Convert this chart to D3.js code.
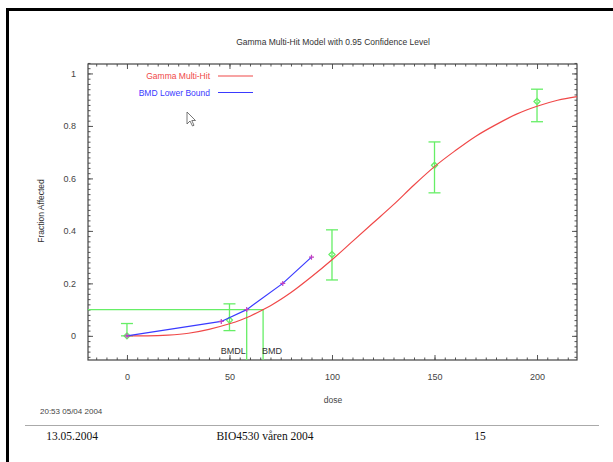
<!DOCTYPE html>
<html>
<head>
<meta charset="utf-8">
<script src="https://cdn.jsdelivr.net/npm/d3@7"></script>
<style>
  body { margin: 0; background: #fff; }
  text { font-family: "Liberation Sans", Arial, sans-serif; }
</style>
</head>
<body>
<div id="chart"></div>
<script>
// observed data with confidence bars
const obsDose = [0, 50, 100, 150, 200];
const obsFrac = [0, 0.06, 0.31, 0.65, 0.893];
const obsLow = [0, 0.02, 0.213, 0.545, 0.816];
const obsHigh = [0.047, 0.122, 0.404, 0.739, 0.94];

// fitted gamma multi-hit curve
const fitDose = [0, 10, 20, 30, 40, 50, 60, 66.4, 70, 80, 90, 100, 110, 120, 130, 140, 150, 160, 170, 180, 190, 200, 210, 219.5];
const fitFrac = [0, 0.0003, 0.003, 0.01, 0.025, 0.046, 0.075, 0.1, 0.115, 0.165, 0.225, 0.29, 0.36, 0.43, 0.5, 0.575, 0.645, 0.705, 0.76, 0.805, 0.845, 0.875, 0.898, 0.912];

// BMD lower bound line
const lowDose = [0, 46, 58.4, 76, 90];
const lowFrac = [0, 0.055, 0.1, 0.2, 0.3];

const bmr = 0.1;
const bmdl = 58.4;
const bmd = 66.4;

const xTicks = [0, 50, 100, 150, 200];
const yTicks = [0, 0.2, 0.4, 0.6, 0.8, 1];

const W = 613, H = 462;
const svg = d3.select('#chart').append('svg')
    .attr('width', W)
    .attr('height', H);

// slide frame
svg.append('path')
    .attr('d', `M7.5,${H} V9.5 H${W}`)
    .attr('fill', 'none')
    .attr('stroke', '#000')
    .attr('stroke-width', 3);

const x = d3.scaleLinear().domain([-19, 219.5]).range([88, 577]);
const y = d3.scaleLinear().domain([-0.092, 1.036]).range([360, 64]);

const plot = svg.append('g');

// minor + major ticks on all four sides
const minorX = d3.range(-15, 220, 5);
const minorY = d3.range(-0.08, 1.04, 0.02);
const tickCol = '#555';

function axisGroup(axis, tx, ty) {
    const g = plot.append('g')
        .attr('transform', `translate(${tx},${ty})`)
        .call(axis);
    g.select('.domain').remove();
    g.selectAll('line').attr('stroke', tickCol);
    return g;
}

axisGroup(d3.axisBottom(x).tickValues(minorX).tickSize(-2.5).tickFormat(''), 0, 360);
axisGroup(d3.axisTop(x).tickValues(minorX).tickSize(-2.5).tickFormat(''), 0, 64);
axisGroup(d3.axisLeft(y).tickValues(minorY).tickSize(-2.5).tickFormat(''), 88, 0);
axisGroup(d3.axisRight(y).tickValues(minorY).tickSize(-2.5).tickFormat(''), 577, 0);

const xb = axisGroup(d3.axisBottom(x).tickValues(xTicks).tickSize(-5).tickPadding(14).tickFormat(d3.format('d')), 0, 360);
axisGroup(d3.axisTop(x).tickValues(xTicks).tickSize(-5).tickFormat(''), 0, 64);
const yl = axisGroup(d3.axisLeft(y).tickValues(yTicks).tickSize(-5).tickPadding(12).tickFormat(d => d === 0 || d === 1 ? d : d3.format('.1f')(d)), 88, 0);
axisGroup(d3.axisRight(y).tickValues(yTicks).tickSize(-5).tickFormat(''), 577, 0);

[xb, yl].forEach(g => g.selectAll('text')
    .attr('fill', '#444')
    .style('font-size', '9px'));

plot.append('rect')
    .attr('x', 88).attr('y', 64)
    .attr('width', 489).attr('height', 296)
    .attr('fill', 'none')
    .attr('stroke', '#444')
    .attr('stroke-width', 1.2);

const green = '#66ee66';

// BMR reference lines
plot.append('path')
    .attr('d', `M${x(-19)},${y(bmr)} H${x(bmd)}`)
    .attr('stroke', green).attr('stroke-width', 1.3).attr('fill', 'none');
[bmdl, bmd].forEach(v => {
    plot.append('line')
        .attr('x1', x(v)).attr('x2', x(v))
        .attr('y1', y(bmr)).attr('y2', 360)
        .attr('stroke', green).attr('stroke-width', 1.3);
});
plot.append('text')
    .attr('x', x(bmdl) - 1).attr('y', 354)
    .attr('text-anchor', 'end')
    .attr('fill', '#333').style('font-size', '9px')
    .text('BMDL');
plot.append('text')
    .attr('x', x(bmd) - 1).attr('y', 354)
    .attr('fill', '#333').style('font-size', '9px')
    .text('BMD');

// error bars
const bars = plot.append('g').attr('stroke', green).attr('stroke-width', 1.3);
obsDose.forEach((d, i) => {
    bars.append('line')
        .attr('x1', x(d)).attr('x2', x(d))
        .attr('y1', y(obsLow[i])).attr('y2', y(obsHigh[i]));
    [obsLow[i], obsHigh[i]].forEach(v => {
        bars.append('line')
            .attr('x1', x(d) - 6).attr('x2', x(d) + 6)
            .attr('y1', y(v)).attr('y2', y(v));
    });
    bars.append('path')
        .attr('d', `M${x(d) - 3},${y(obsFrac[i])} L${x(d)},${y(obsFrac[i]) - 3} L${x(d) + 3},${y(obsFrac[i])} L${x(d)},${y(obsFrac[i]) + 3} Z`)
        .attr('fill', 'none');
});

// fitted curve
const fitLine = d3.line()
    .x((d, i) => x(fitDose[i]))
    .y(d => y(d))
    .curve(d3.curveMonotoneX);
plot.append('path')
    .datum(fitFrac)
    .attr('d', fitLine)
    .attr('fill', 'none')
    .attr('stroke', '#f04848')
    .attr('stroke-width', 1.2);

// lower bound line
const lowLine = d3.line()
    .x((d, i) => x(lowDose[i]))
    .y(d => y(d));
plot.append('path')
    .datum(lowFrac)
    .attr('d', lowLine)
    .attr('fill', 'none')
    .attr('stroke', '#3a3aff')
    .attr('stroke-width', 1.2);
plot.append('g')
    .selectAll('path')
    .data(lowFrac)
    .join('path')
    .attr('d', (d, i) => `M${x(lowDose[i]) - 2.5},${y(d)} h5 M${x(lowDose[i])},${y(d) - 2.5} v5`)
    .attr('stroke', '#c040c0')
    .attr('stroke-width', 1.2);

// legend
const legend = [['Gamma Multi-Hit', '#f04848'], ['BMD Lower Bound', '#3a3aff']];
legend.forEach((l, i) => {
    svg.append('text')
        .attr('x', 210).attr('y', 79 + i * 16.5)
        .attr('text-anchor', 'end')
        .attr('fill', l[1]).style('font-size', '8.5px')
        .text(l[0]);
    svg.append('line')
        .attr('x1', 218).attr('x2', 253)
        .attr('y1', 76 + i * 16.5).attr('y2', 76 + i * 16.5)
        .attr('stroke', l[1]).attr('stroke-width', 1.2);
});

// title and axis labels
svg.append('text')
    .attr('x', 333).attr('y', 45)
    .attr('text-anchor', 'middle')
    .attr('fill', '#333').style('font-size', '8.5px')
    .text('Gamma Multi-Hit Model with 0.95 Confidence Level');
svg.append('text')
    .attr('transform', 'translate(44,211) rotate(-90)')
    .attr('text-anchor', 'middle')
    .attr('fill', '#333').style('font-size', '8.5px')
    .text('Fraction Affected');
svg.append('text')
    .attr('x', 333).attr('y', 403)
    .attr('text-anchor', 'middle')
    .attr('fill', '#444').style('font-size', '8.5px')
    .text('dose');
svg.append('text')
    .attr('x', 40).attr('y', 414)
    .attr('fill', '#444').style('font-size', '8px')
    .text('20:53 05/04 2004');

// mouse pointer
svg.append('path')
    .attr('d', 'M187,112 L187,124 L190,121 L192.5,126 L194,125.3 L191.8,120.5 L195.5,120.5 Z')
    .attr('fill', '#fff')
    .attr('stroke', '#555')
    .attr('stroke-width', 0.8);

// slide footer
svg.append('line')
    .attr('x1', 25).attr('x2', 599)
    .attr('y1', 425.5).attr('y2', 425.5)
    .attr('stroke', '#aaa').attr('stroke-width', 1);
const footer = [['13.05.2004', 72], ['BIO4530 våren 2004', 265], ['15', 480]];
footer.forEach(f => {
    svg.append('text')
        .attr('x', f[1]).attr('y', 440)
        .attr('text-anchor', 'middle')
        .style('font-family', '"Liberation Serif", "Times New Roman", serif')
        .style('font-size', '11.5px')
        .attr('fill', '#111')
        .text(f[0]);
});
</script>
</body>
</html>
